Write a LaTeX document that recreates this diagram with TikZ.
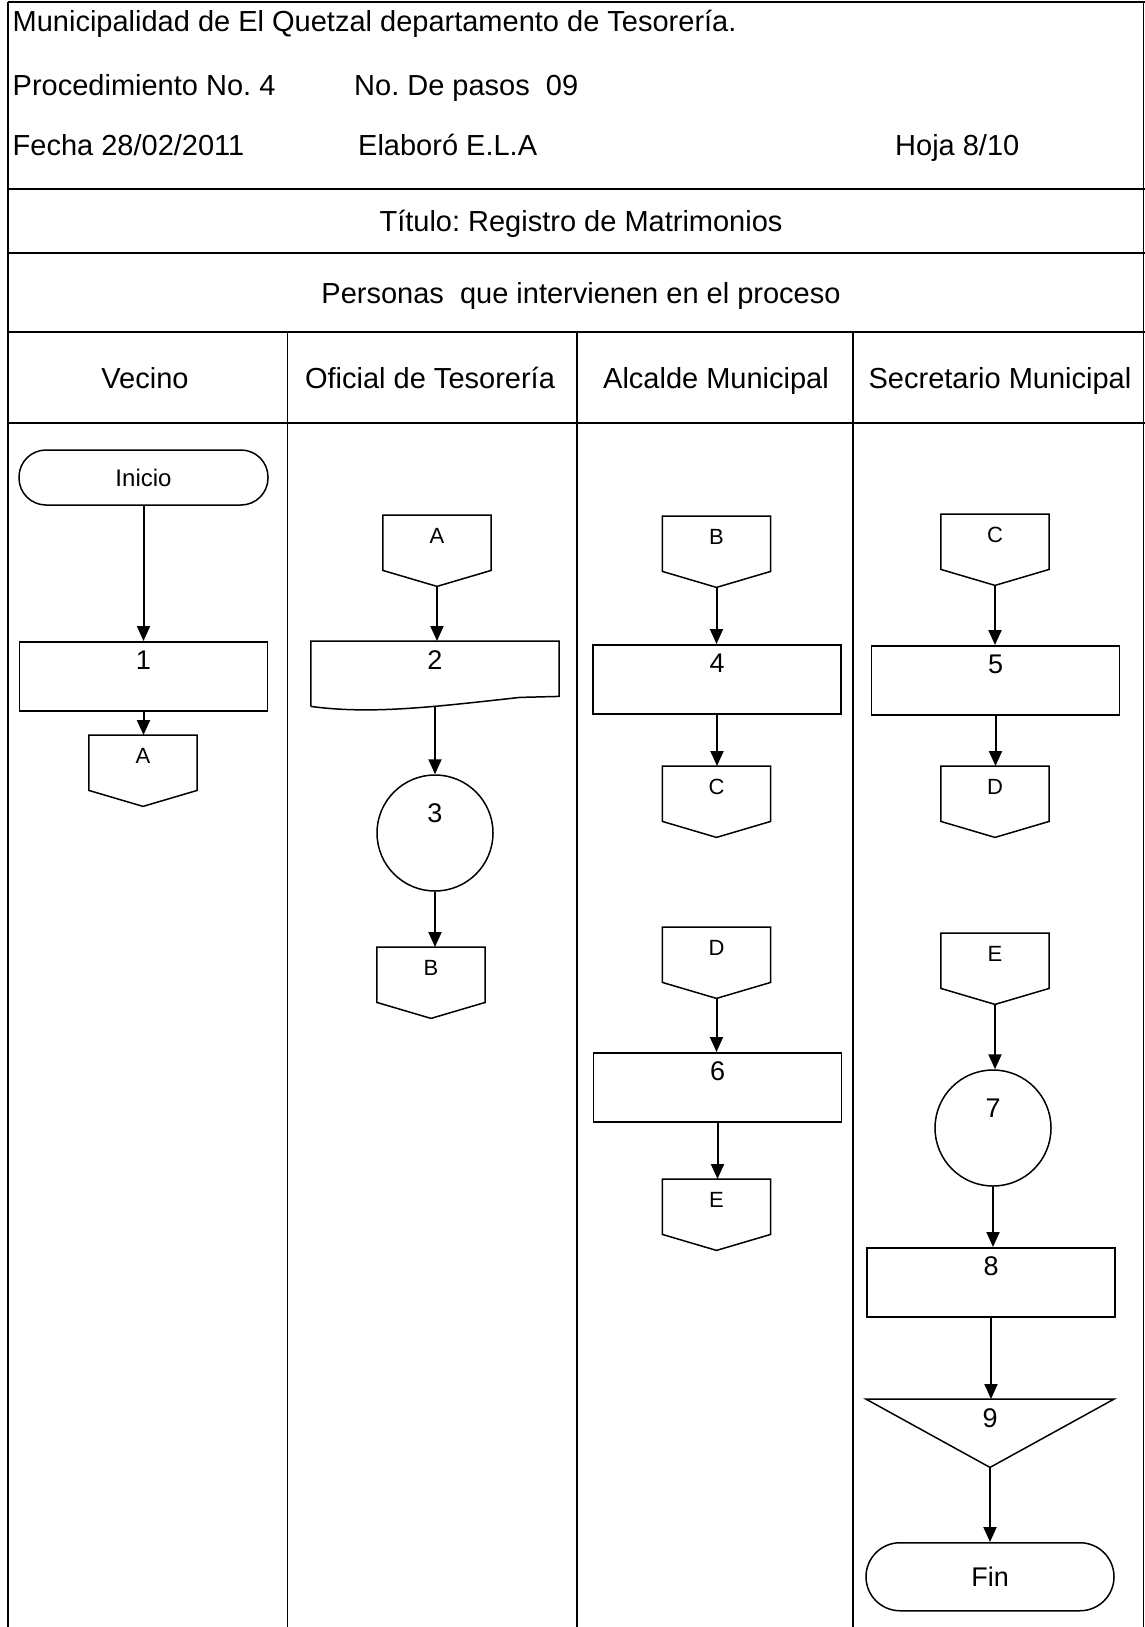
\documentclass[tikz,border=0pt]{standalone}
\usepackage{fontspec}
\setmainfont{Liberation Sans}
\usetikzlibrary{arrows.meta,calc}
\frenchspacing

% outline of an off-page connector: a box whose bottom ends in a point
\newcommand{\offpageoutline}[1]{%
  \draw[outline] (#1.north west) -- (#1.north east) -- ([yshift=16pt]#1.south east)
    -- (#1.south) -- ([yshift=16pt]#1.south west) -- cycle;}

\begin{document}
\begin{tikzpicture}[x=1pt,y=1pt,
  grid/.style={line width=1.6pt},
  outline/.style={line width=1.5pt},
  flow/.style={line width=2pt,-{Triangle[length=15pt,width=13pt]}},
  hdr/.style={font=\fontsize{29}{34}\selectfont, inner sep=0pt},
  procbox/.style={draw, outline, rectangle, minimum width=248pt, inner sep=0pt,
    text height=28pt, text depth=41pt, font=\fontsize{27}{32}\selectfont},
  docbox/.style={rectangle, minimum width=248pt, inner sep=0pt,
    text height=28pt, text depth=37pt, font=\fontsize{27}{32}\selectfont},
  offpg/.style={rectangle, minimum width=108pt, inner sep=0pt,
    text height=28pt, text depth=43pt, font=\fontsize{22}{26}\selectfont},
  terminal/.style={draw, outline, rectangle, minimum width=249pt, inner sep=0pt},
  stepcircle/.style={draw, outline, circle, minimum size=116pt, inner sep=0pt,
    text height=0pt, text depth=22pt, font=\fontsize{27}{32}\selectfont},
  mergebox/.style={rectangle, minimum width=248pt, inner sep=0pt,
    text height=28pt, text depth=40pt, font=\fontsize{27}{32}\selectfont}
]
\useasboundingbox (0,0) rectangle (1145,-1627);

% ---------- form frame ----------
\draw[grid] (8,-2) -- (1145,-2);
\draw[grid] (8,-189) -- (1145,-189);
\draw[grid] (8,-253) -- (1145,-253);
\draw[grid] (8,-332) -- (1145,-332);
\draw[grid] (8,-423) -- (1145,-423);
\draw[grid] (8,-2) -- (8,-1627);
\draw[grid] (1143.5,-2) -- (1143.5,-1627);
\draw[grid] (287.5,-332) -- (287.5,-1627);
\draw[grid] (577,-332) -- (577,-1627);
\draw[grid] (853,-332) -- (853,-1627);

% ---------- header texts ----------
\node[hdr, anchor=base west] (muni) at (12.5,-31.5) {Municipalidad de El Quetzal departamento de Tesorería.};
\node[hdr, anchor=base west] (proc) at (12.5,-95.5) {Procedimiento No. 4};
\node[hdr, anchor=base west] (pasos) at (354,-95.5) {No. De pasos\ \ 09};
\node[hdr, anchor=base west] (fecha) at (12.5,-155.5) {Fecha 28/02/2011};
\node[hdr, anchor=base west] (elab) at (358,-155.5) {Elaboró E.L.A};
\node[hdr, anchor=base west] (hoja) at (895,-155.5) {Hoja 8/10};
\node[hdr, anchor=base] (titulo) at (581,-231.5) {Título: Registro de Matrimonios};
\node[hdr, anchor=base] (personas) at (581,-303.5) {Personas\ \ que intervienen en el proceso};
\node[hdr, anchor=base] (h1) at (145,-388.5) {Vecino};
\node[hdr, anchor=base] (h2) at (430,-388.5) {Oficial de Tesorería};
\node[hdr, anchor=base] (h3) at (716,-388.5) {Alcalde Municipal};
\node[hdr, anchor=base] (h4) at (1000,-388.5) {Secretario Municipal};

% ---------- lane 1: Vecino ----------
\node[terminal, rounded corners=27pt, minimum height=55pt,
  font=\fontsize{24}{28}\selectfont] (ini) at (143.5,-477.5) {Inicio};
\node[procbox, anchor=north] (s1) at (143.5,-641) {1};
\node[offpg, anchor=north] (ca1) at (143,-735) {A};
\offpageoutline{ca1}

% ---------- lane 2: Oficial de Tesorería ----------
\node[offpg, anchor=north] (ca2) at (437,-515) {A};
\offpageoutline{ca2}
\node[docbox, anchor=north] (s2) at (435,-641) {2};
\draw[outline] (s2.south west) -- (s2.north west) -- (s2.north east)
  -- ([yshift=10pt]s2.south east) -- ([shift={(209,9)}]s2.south west)
  .. controls ([shift={(119,-1)}]s2.south west) and ([shift={(59,-8)}]s2.south west)
  .. (s2.south west);
\node[stepcircle] (s3) at (435,-833) {3};
\node[offpg, anchor=north] (cb2) at (431,-947) {B};
\offpageoutline{cb2}

% ---------- lane 3: Alcalde Municipal ----------
\node[offpg, anchor=north] (cb3) at (716.5,-516) {B};
\offpageoutline{cb3}
\node[procbox, anchor=north] (s4) at (717,-644) {4};
\node[offpg, anchor=north] (cc3) at (716.5,-766) {C};
\offpageoutline{cc3}
\node[offpg, anchor=north] (cd3) at (716.5,-927) {D};
\offpageoutline{cd3}
\node[procbox, anchor=north] (s6) at (717.5,-1052) {6};
\node[offpg, anchor=north] (ce3) at (716.5,-1179) {E};
\offpageoutline{ce3}

% ---------- lane 4: Secretario Municipal ----------
\node[offpg, anchor=north] (cc4) at (995,-514) {C};
\offpageoutline{cc4}
\node[procbox, anchor=north] (s5) at (995.5,-645) {5};
\node[offpg, anchor=north] (cd4) at (995,-766) {D};
\offpageoutline{cd4}
\node[offpg, anchor=north] (ce4) at (995,-933) {E};
\offpageoutline{ce4}
\node[stepcircle] (s7) at (993,-1128) {7};
\node[procbox, anchor=north] (s8) at (991,-1247) {8};
\node[mergebox, anchor=north] (s9) at (990,-1399) {9};
\draw[outline] (s9.north west) -- (s9.north east) -- (s9.south) -- cycle;
\node[terminal, rounded corners=34pt, minimum height=68pt, minimum width=248pt,
  font=\fontsize{27}{32}\selectfont, anchor=north] (fin) at (990,-1542) {Fin};

% ---------- flow arrows ----------
\foreach \a/\b in {ini/s1, s1/ca1, ca2/s2, s2/s3, s3/cb2,
                   cb3/s4, s4/cc3, cd3/s6, s6/ce3,
                   cc4/s5, s5/cd4, ce4/s7, s7/s8, s8/s9, s9/fin}
  \draw[flow] (\a.south) -- (\a.south |- \b.north);

\end{tikzpicture}
\end{document}
